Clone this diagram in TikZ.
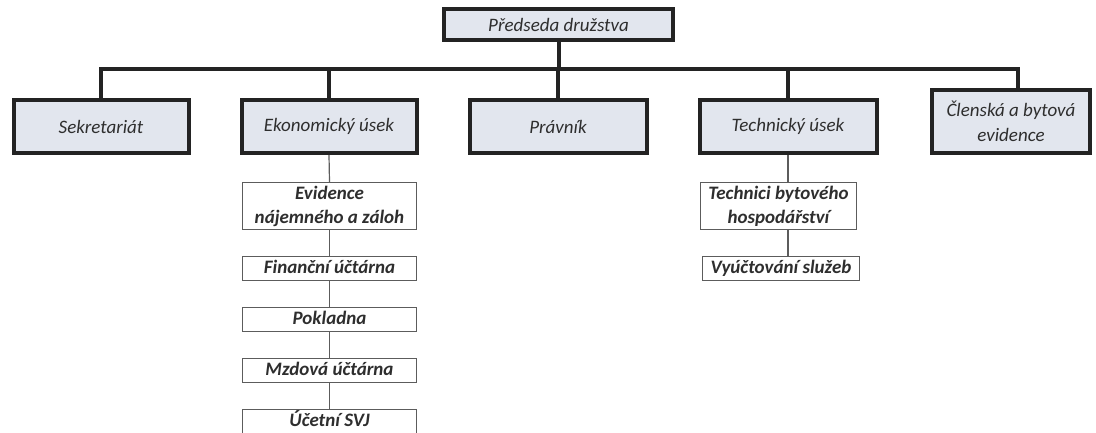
\documentclass[tikz,border=0pt]{standalone}
\usepackage{fontspec}
\setmainfont{Carlito}
\definecolor{boxfill}{HTML}{E2E6EE}
\definecolor{boxline}{HTML}{232323}
\definecolor{subline}{HTML}{5C5C5C}
\definecolor{txt}{HTML}{2E2E2E}

\begin{document}
\begin{tikzpicture}[
    x=1pt, y=-1pt,
    unit/.style={draw=boxline, line width=4pt, fill=boxfill,
                 minimum width=175pt, minimum height=53pt, inner sep=2pt,
                 align=center, text=txt,
                 font=\fontsize{19}{25}\selectfont\itshape},
    subunit/.style={draw=subline, line width=1.2pt, fill=white,
                    minimum width=174pt, inner xsep=2pt, inner ysep=0pt,
                    align=center, text=txt,
                    font=\fontsize{19}{24}\selectfont\bfseries\itshape},
    oneline/.style={text height=14pt, text depth=4pt, minimum height=24pt},
    bus/.style={draw=boxline, line width=4pt},
    link/.style={draw=subline, line width=1.2pt}
  ]
  \useasboundingbox[fill=white] (0,0) rectangle (1096,432);

  % top
  \node[unit, minimum width=229pt, minimum height=31pt] (pred)
       at (558.5,24.5) {Předseda družstva};

  % departments
  \node[unit] (sekr) at (101,126.5) {Sekretariát};
  \node[unit] (ekon) at (329,126.5) {Ekonomický úsek};
  \node[unit, minimum width=177pt] (prav) at (558,126.5) {Právník};
  \node[unit, minimum width=177pt] (tech) at (788,126.5) {Technický úsek};
  \node[unit, minimum width=158pt, minimum height=63pt] (clen)
       at (1011,121.5) {Členská a bytová\\evidence};

  \coordinate (hub) at (558.5,69);
  \draw[bus] (pred) -- (hub);
  \draw[bus] (sekr.north) |- (hub) -| ([xshift=7pt]clen.north);
  \foreach \n in {ekon, prav, tech}
    \draw[bus] (hub -| \n.north) -- (\n.north);

  % economic section
  \node[subunit, minimum height=47pt] (evid) at (329.5,206)
       {Evidence\\nájemného a záloh};
  \node[subunit, oneline] (fin) at (329.5,268.5) {Finanční účtárna};
  \node[subunit, oneline] (pokl) at (329.5,319.5) {Pokladna};
  \node[subunit, oneline] (mzd) at (329.5,370.5) {Mzdová účtárna};
  \node[subunit, oneline] (ucet) at (329.5,421.5) {Účetní SVJ};

  \draw[link] (ekon.south) -- (evid.north);
  \draw[link] (evid) -- (fin);
  \draw[link] (fin) -- (pokl);
  \draw[link] (pokl) -- (mzd);
  \draw[link] (mzd) -- (ucet);

  % technical section
  \node[subunit, minimum width=156pt, minimum height=47pt] (techb)
       at (778.5,206) {Technici bytového\\hospodářství};
  \node[subunit, oneline, minimum width=157pt] (vyuc)
       at (781,268.5) {Vyúčtování služeb};

  \draw[link] (tech.south) -- (tech.south |- techb.north);
  \draw[link] (tech.south |- techb.south) -- (tech.south |- vyuc.north);
\end{tikzpicture}
\end{document}
